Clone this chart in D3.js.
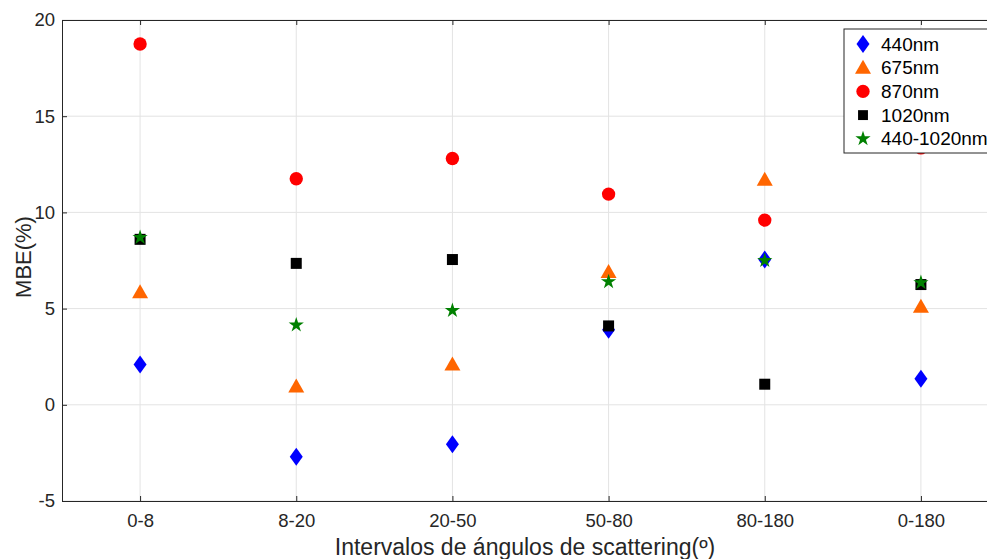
<!DOCTYPE html>
<html>
<head>
<meta charset="utf-8">
<script src="https://cdn.jsdelivr.net/npm/d3@7"></script>
<style>
  body { margin: 0; background: #fff; overflow: hidden; }
  svg { display: block; font-family: "Liberation Sans", Arial, sans-serif; }
</style>
</head>
<body>
<script>
// categories on the x axis
var categories = ["0-8", "8-20", "20-50", "50-80", "80-180", "0-180"];
// MBE(%) per series
var s440 = [2.1, -2.7, -2.05, 3.9, 7.55, 1.35];
var s675 = [5.85, 0.95, 2.1, 6.9, 11.7, 5.1];
var s870 = [18.75, 11.75, 12.8, 10.95, 9.6, 13.35];
var s1020 = [8.6, 7.35, 7.55, 4.1, 1.07, 6.25];
var s440_1020 = [8.7, 4.15, 4.9, 6.4, 7.5, 6.35];
var yTicks = [-5, 0, 5, 10, 15, 20];

var series = [
  {name: "440nm", values: s440, color: "#0000ff", shape: "diamond"},
  {name: "675nm", values: s675, color: "#ff6600", shape: "triangle"},
  {name: "870nm", values: s870, color: "#ff0000", shape: "circle"},
  {name: "1020nm", values: s1020, color: "#000000", shape: "square"},
  {name: "440-1020nm", values: s440_1020, color: "#008000", shape: "star"}
];

var W = 987, H = 559;
var margin = {top: 20, left: 62, bottom: 58},
    plotW = 937,   // runs past the right edge of the window, as in the picture
    plotH = H - margin.top - margin.bottom;

var svg = d3.select("body").append("svg").attr("width", W).attr("height", H);
var g = svg.append("g").attr("transform", "translate(" + margin.left + "," + margin.top + ")");

var x = d3.scalePoint().domain(categories).range([0, plotW]).padding(0.5);
var y = d3.scaleLinear().domain([-5, 20]).range([plotH, 0]);

// grid
g.append("g").selectAll("line.gx").data(categories).enter().append("line")
  .attr("x1", function(d) { return x(d); }).attr("x2", function(d) { return x(d); })
  .attr("y1", 0).attr("y2", plotH)
  .attr("stroke", "#e3e3e3").attr("stroke-width", 1);
g.append("g").selectAll("line.gy").data(yTicks).enter().append("line")
  .attr("x1", 0).attr("x2", plotW)
  .attr("y1", function(d) { return y(d); }).attr("y2", function(d) { return y(d); })
  .attr("stroke", "#e3e3e3").attr("stroke-width", 1);

// axes (ticks point inward like matlab)
var axisColor = "#262626";
var xAxis = g.append("g").attr("transform", "translate(0," + plotH + ")")
  .call(d3.axisBottom(x).tickSize(-5).tickPadding(13));
var yAxis = g.append("g")
  .call(d3.axisLeft(y).tickValues(yTicks).tickSize(-5).tickPadding(7)
    .tickFormat(function(d) { return String(d); }));   // plain hyphen minus
var xTop = g.append("g").call(d3.axisTop(x).tickSize(-5).tickFormat(""));
[xAxis, yAxis, xTop].forEach(function(a) {
  a.select(".domain").attr("stroke", axisColor);
  a.selectAll(".tick line").attr("stroke", axisColor);
  a.selectAll("text").attr("fill", axisColor).style("font-size", "18.5px")
    .style("font-family", "Liberation Sans, Arial, sans-serif");
});

// marker shapes
var sym = {
  diamond: function() { return "M0,-9L6.5,0L0,9L-6.5,0Z"; },
  triangle: function() { return "M0,-8L8,6L-8,6Z"; },
  circle: function() { return d3.symbol(d3.symbolCircle, 140)(); },
  square: function() { return "M-5.5,-5.5H5.5V5.5H-5.5Z"; },
  star: function() { return d3.symbol(d3.symbolStar, 72)(); }
};

// points
series.forEach(function(s) {
  g.append("g").selectAll("path").data(s.values).enter().append("path")
    .attr("d", sym[s.shape]())
    .attr("transform", function(d, i) { return "translate(" + x(categories[i]) + "," + y(d) + ")"; })
    .attr("fill", s.color);
});

// axis labels
svg.append("text").attr("x", 525).attr("y", 555)
  .attr("text-anchor", "middle").attr("fill", axisColor).style("font-size", "23px")
  .text("Intervalos de ángulos de scattering(º)");
svg.append("text").attr("transform", "translate(31," + 257 + ") rotate(-90)")
  .attr("text-anchor", "middle").attr("fill", axisColor).style("font-size", "22px")
  .text("MBE(%)");

// legend
var lg = svg.append("g").attr("transform", "translate(844,29)");
lg.append("rect").attr("width", 150).attr("height", 124)
  .attr("fill", "#fff").attr("stroke", "#262626").attr("stroke-width", 1);
series.forEach(function(s, i) {
  var row = lg.append("g").attr("transform", "translate(0," + (15 + i * 23.7) + ")");
  row.append("path").attr("d", sym[s.shape]())
    .attr("transform", "translate(19,0)" + (s.shape === "square" ? " scale(0.9)" : ""))
    .attr("fill", s.color);
  row.append("text").attr("x", 37).attr("y", 6.5).attr("fill", "#000")
    .style("font-size", "19px").text(s.name);
});
</script>
</body>
</html>
